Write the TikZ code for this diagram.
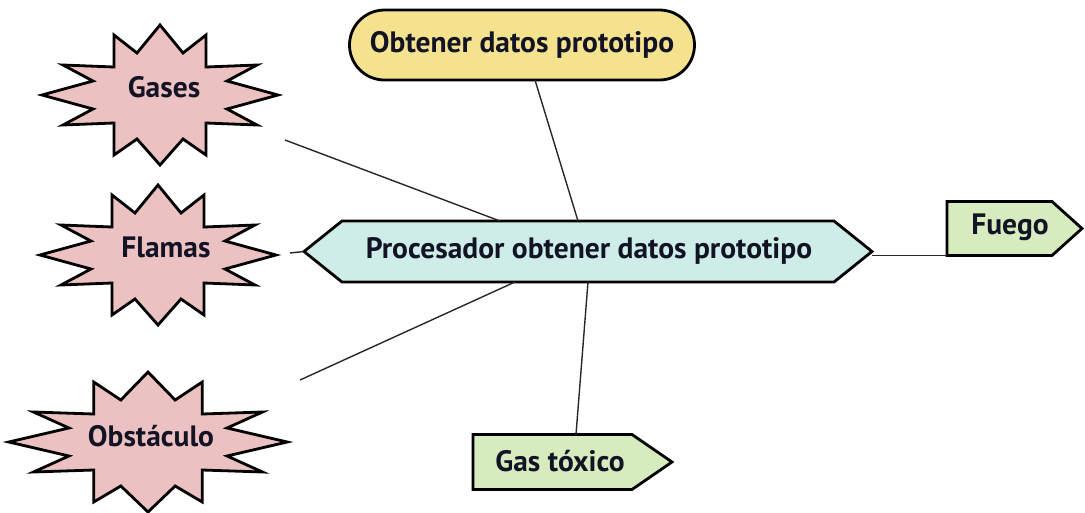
\documentclass[tikz,border=0pt]{standalone}
\usepackage{fontspec}
\setmainfont{PT Sans}
\usetikzlibrary{backgrounds,calc}
\definecolor{inkcol}{RGB}{18,20,38}
\definecolor{linkcol}{RGB}{40,40,40}
\definecolor{starfill}{RGB}{236,193,193}
\definecolor{hexfill}{RGB}{206,237,232}
\definecolor{topfill}{RGB}{245,226,142}
\definecolor{tagfill}{RGB}{214,236,190}
\begin{document}
\begin{tikzpicture}[x=1pt,y=-1pt,
  txt/.style={font=\bfseries\fontsize{29.5}{33}\selectfont, text=inkcol, inner sep=0pt},
  frame/.style={draw=none, inner sep=0pt, outer sep=0pt},
  outline/.style={draw=black, line width=2.8pt, line join=miter},
  link/.style={draw=linkcol, line width=1.4pt},
  burst/.pic={
    \path[outline, fill=starfill]
      (0,-70) -- (23,-42) -- (46,-60) -- (46,-28) -- (97,-30) -- (67,-14) --
      (118,0) -- (67,14) -- (97,30) -- (46,28) -- (46,60) -- (23,44) --
      (0,70) -- (-23,44) -- (-46,60) -- (-46,28) -- (-97,30) -- (-67,14) --
      (-118,0) -- (-67,-14) -- (-97,-30) -- (-46,-28) -- (-46,-60) -- (-23,-42) -- cycle;
  }
]
\useasboundingbox (0,0) rectangle (1085,512);

% shape frames
\node[frame, minimum width=236pt, minimum height=140pt] (gases) at (160,95) {};
\node[frame, minimum width=236pt, minimum height=140pt] (flamas) at (158,255) {};
\node[frame, minimum width=278pt, minimum height=140pt] (obst) at (148,442) {};
\node[frame, minimum width=345pt, minimum height=70pt] (top) at (522,45) {};
\node[frame, minimum width=568pt, minimum height=61pt] (proc) at (588,251.5) {};
\node[frame, minimum width=135pt, minimum height=54pt] (fuego) at (1014.5,228.5) {};
\node[frame, minimum width=199pt, minimum height=55pt] (gas) at (572.5,462) {};

% outlines
\begin{scope}[on background layer]
  \pic at (gases.center) {burst};
  \pic at (flamas.center) {burst};
  \pic[xscale=1.18] at (obst.center) {burst};
  \path[outline, fill=topfill, rounded corners=35pt]
    (top.south west) rectangle (top.north east);
  \path[outline, fill=hexfill]
    (proc.west) -- ([xshift=38pt]proc.north west) -- ([xshift=-38pt]proc.north east) --
    (proc.east) -- ([xshift=-38pt]proc.south east) -- ([xshift=38pt]proc.south west) -- cycle;
  \path[outline, fill=tagfill]
    (fuego.north west) -- ([xshift=-30pt]fuego.north east) -- (fuego.east) --
    ([xshift=-30pt]fuego.south east) -- (fuego.south west) -- cycle;
  \path[outline, fill=tagfill]
    (gas.north west) -- ([xshift=-40pt]gas.north east) -- (gas.east) --
    ([xshift=-40pt]gas.south east) -- (gas.south west) -- cycle;
\end{scope}

% labels
\node[txt] (gasesText) at (164,87) {Gases};
\node[txt] (flamasText) at (166,247) {Flamas};
\node[txt] (obstText) at (151,436) {Obstáculo};
\node[txt] (topText) at (522,45) {Obtener datos prototipo};
\node[txt] (procText) at (589,251) {Procesador obtener datos prototipo};
\node[txt] (fuegoText) at (1010,227) {Fuego};
\node[txt] (gasText) at (560,461) {Gas tóxico};

% connectors
\coordinate (gasesLead) at (285,140);
\coordinate (flamasLead) at (290,253);
\coordinate (obstLead) at (300,380);
\draw[link] (gasesLead) -- ([xshift=196pt]proc.north west);
\draw[link] (flamasLead) -- (proc.west);
\draw[link] (obstLead) -- ([xshift=211pt]proc.south west);
\draw[link] ([xshift=13pt]top.south) -- ([xshift=-10pt]proc.north);
\draw[link] (proc.south) -- ([xshift=3.5pt]gas.north);
\draw[link] (proc.east |- fuego.south west) -- (fuego.south west);
\end{tikzpicture}
\end{document}
